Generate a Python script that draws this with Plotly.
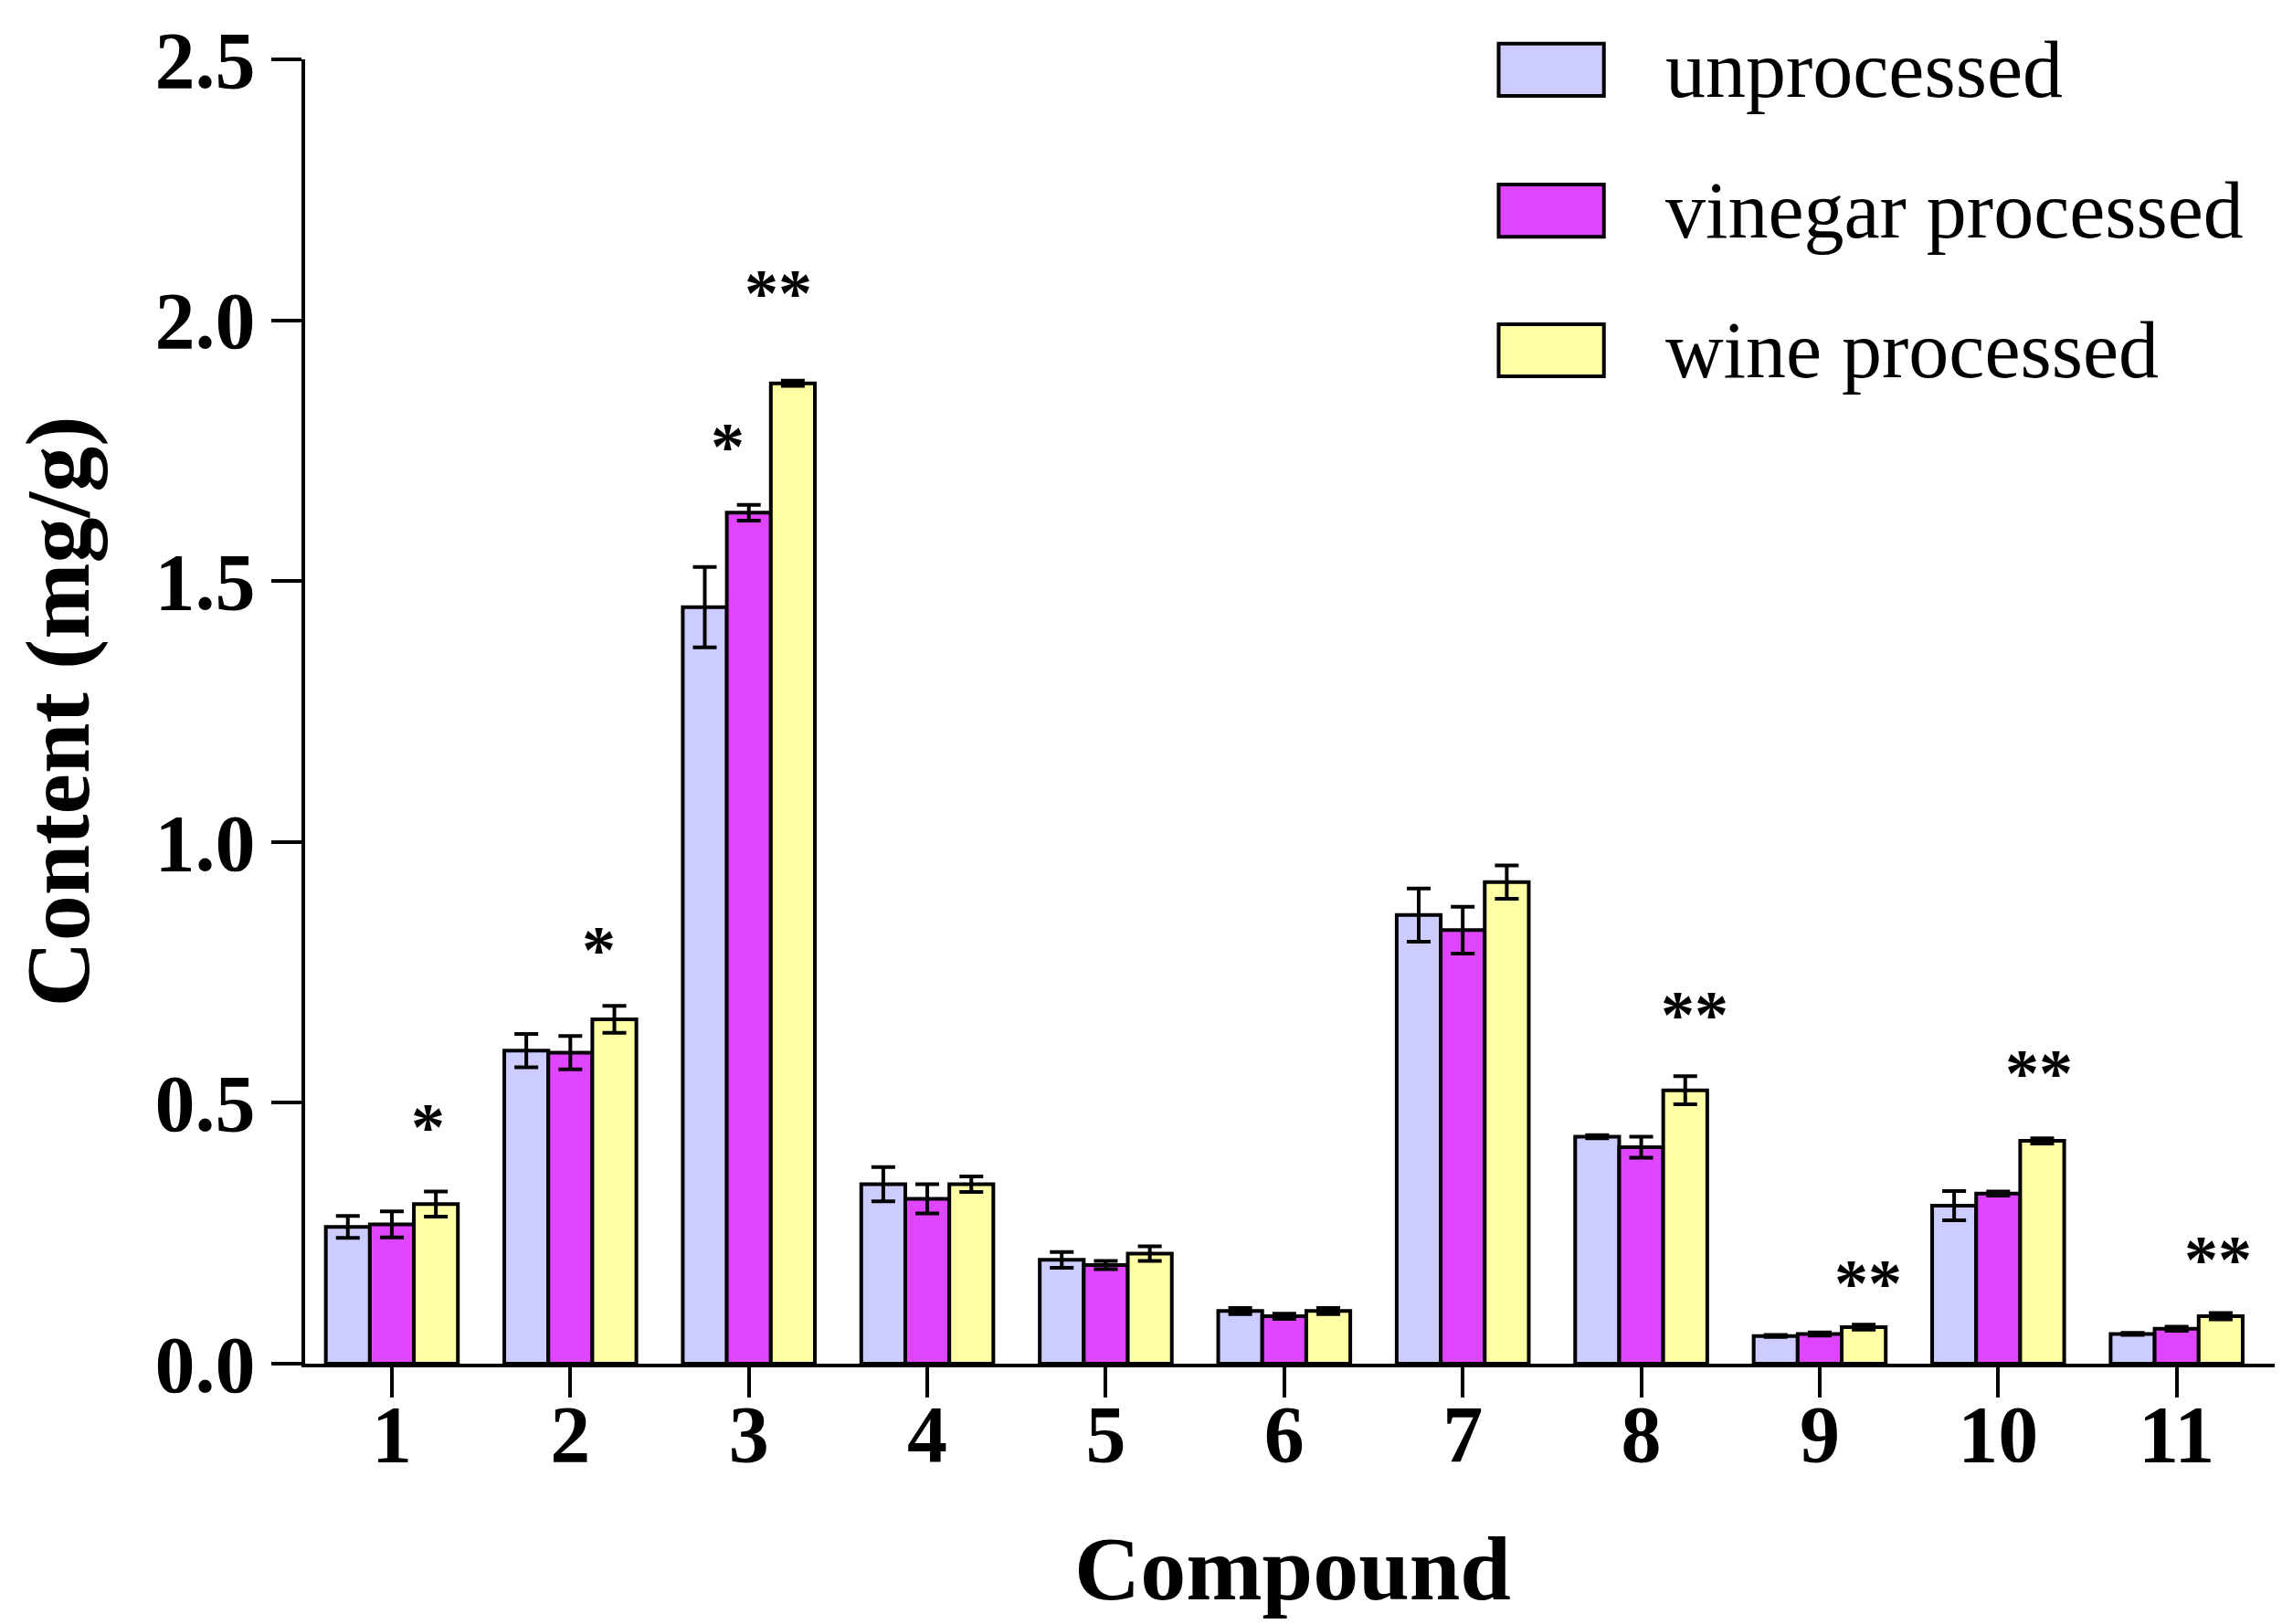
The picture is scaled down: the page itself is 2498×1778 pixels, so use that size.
import plotly.graph_objects as go

# compounds on the x axis
compounds = [1, 2, 3, 4, 5, 6, 7, 8, 9, 10, 11]
series_names = ["unprocessed", "vinegar processed", "wine processed"]

# content (mg/g)
unprocessed = [0.262, 0.600, 1.450, 0.344, 0.199, 0.101, 0.860, 0.435, 0.053, 0.303, 0.057]
unprocessed_err = [0.021, 0.032, 0.077, 0.033, 0.015, 0.006, 0.051, 0.003, 0.002, 0.028, 0.002]

vinegar = [0.267, 0.596, 1.631, 0.316, 0.189, 0.091, 0.831, 0.415, 0.057, 0.326, 0.067]
vinegar_err = [0.025, 0.032, 0.015, 0.028, 0.008, 0.005, 0.045, 0.020, 0.003, 0.004, 0.004]

wine = [0.306, 0.660, 1.879, 0.344, 0.211, 0.101, 0.923, 0.524, 0.070, 0.427, 0.091]
wine_err = [0.024, 0.026, 0.005, 0.015, 0.014, 0.006, 0.032, 0.027, 0.005, 0.005, 0.006]

# significance marks: compound, label, height of the mark
star_compound = [1, 2, 3, 3, 8, 9, 10, 11]
star_text = ["*", "*", "*", "**", "**", "**", "**", "**"]
star_y = [0.46, 0.80, 1.765, 2.058, 0.676, 0.161, 0.563, 0.207]
star_dx = [0.20, 0.16, -0.12, 0.166, 0.30, 0.27, 0.23, 0.23]

colors = ["#CCCCFF", "#DF45FC", "#FFFFA6"]
FONT = "Liberation Serif"

fig = go.Figure()
for name, vals, errs, col in zip(series_names,
                                 [unprocessed, vinegar, wine],
                                 [unprocessed_err, vinegar_err, wine_err],
                                 colors):
    fig.add_trace(go.Bar(
        x=compounds, y=vals, name=name,
        marker=dict(color=col, line=dict(color="black", width=4)),
        error_y=dict(type="data", array=errs, color="black", thickness=4, width=13),
        showlegend=False,
    ))

for c, t, dx, y in zip(star_compound, star_text, star_dx, star_y):
    fig.add_annotation(x=c + dx, y=y, text=t, showarrow=False,
                       font=dict(family=FONT, size=74, color="black", weight="bold"),
                       yanchor="middle", yshift=-4)

# hand-made legend with large swatches
legend_rows = [0.992, 0.884, 0.777]
for name, col, ry in zip(series_names, colors, legend_rows):
    fig.add_shape(type="rect", xref="paper", yref="paper",
                  x0=0.6043, x1=0.6576, y0=ry - 0.02, y1=ry + 0.02,
                  fillcolor=col, line=dict(color="black", width=4))
    fig.add_annotation(xref="paper", yref="paper", x=0.6876, y=ry, text=name,
                       showarrow=False, xanchor="left", yanchor="middle",
                       font=dict(family=FONT, size=88, color="black"))

fig.update_layout(
    width=2498, height=1778,
    barmode="group", bargap=0.26, bargroupgap=0,
    plot_bgcolor="white", paper_bgcolor="white",
    margin=dict(l=326, r=10, t=44, b=293),
    font=dict(family=FONT, color="black"),
)
fig.update_xaxes(
    range=[0.514, 11.58], tickmode="array", tickvals=compounds,
    ticks="outside", ticklen=33, tickwidth=4, tickcolor="black",
    showline=True, linewidth=4, linecolor="black", showgrid=False, zeroline=False,
    tickfont=dict(family=FONT, size=88, weight="bold"), ticklabelstandoff=-36,
    title=dict(text="Compound", font=dict(family=FONT, size=100, weight="bold"), standoff=64),
)
fig.update_yaxes(
    range=[0, 2.5], dtick=0.5, tickformat=".1f",
    ticks="outside", ticklen=33, tickwidth=4, tickcolor="black",
    showline=True, linewidth=4, linecolor="black", showgrid=False, zeroline=False,
    tickfont=dict(family=FONT, size=88, weight="bold"), ticklabeloverflow="allow",
    title=dict(text="Content (mg/g)", font=dict(family=FONT, size=100, weight="bold"), standoff=40),
)

fig.write_html("out.html")
